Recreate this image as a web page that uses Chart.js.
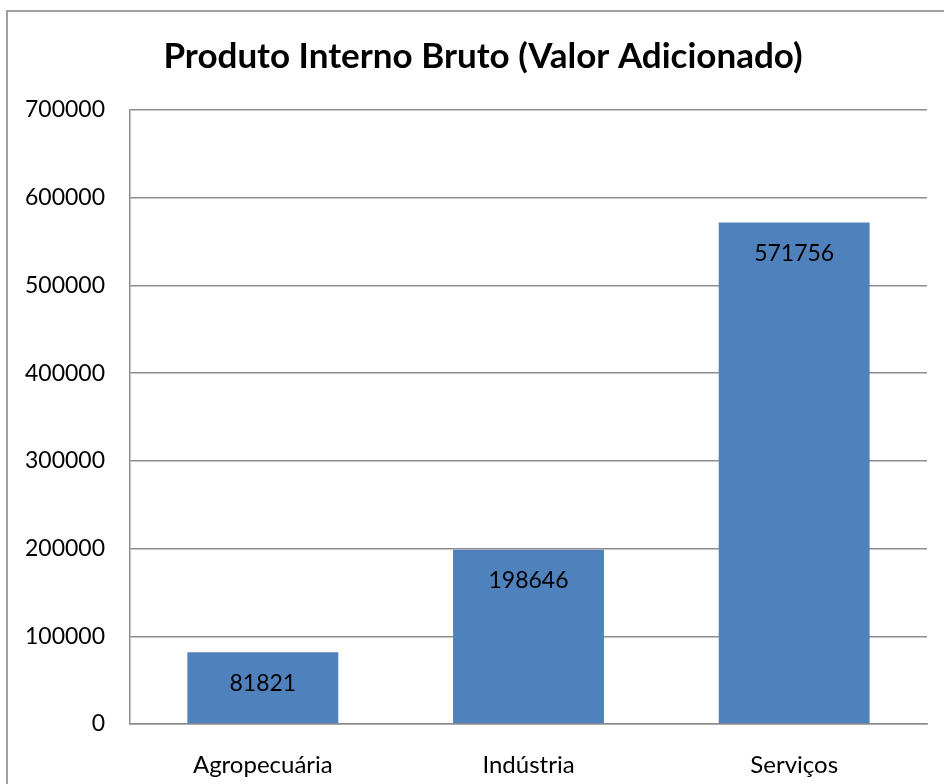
<!DOCTYPE html>
<html lang="pt-BR">
<head>
<meta charset="utf-8">
<title>Produto Interno Bruto (Valor Adicionado)</title>
<script src="https://cdn.jsdelivr.net/npm/chart.js@4.4.1/dist/chart.umd.min.js"></script>
<style>
  html, body { margin: 0; padding: 0; background: #fff; overflow: hidden; }
  .frame {
    position: absolute; left: 6px; top: 10px;
    width: 1000px; height: 1000px;
    border-left: 2px solid #a0a0a0; border-top: 2px solid #a0a0a0;
  }
  .wrap { position: absolute; left: 0; top: 0; width: 944px; height: 784px; }
</style>
</head>
<body>
<div class="frame"></div>
<div class="wrap"><canvas id="chart-pib"></canvas></div>
<script>
/* Produto Interno Bruto por setor (valor adicionado) */
const titulo = 'Produto Interno Bruto (Valor Adicionado)';
const categorias = ['Agropecuária', 'Indústria', 'Serviços'];
const valores = [81821, 198646, 571756];
const yMax = 700000;
const yStep = 100000;

const fontFamily = "Lato, 'Open Sans', sans-serif";
const corBarra = '#4f81bd';
const corGrade = '#8c8c8c';

// título desenhado à mão: no Excel ele fica centrado no quadro, não no canvas
const tituloGrafico = {
  id: 'tituloGrafico',
  afterDraw(chart) {
    const ctx = chart.ctx;
    ctx.save();
    ctx.font = 'bold 35px ' + fontFamily;
    ctx.fillStyle = '#000';
    ctx.textAlign = 'center';
    ctx.textBaseline = 'middle';
    ctx.fillText(titulo, 483, 57);
    ctx.restore();
  }
};

// rótulos de valor dentro das barras, perto do topo
const rotulosValor = {
  id: 'rotulosValor',
  afterDatasetsDraw(chart) {
    const ctx = chart.ctx;
    const meta = chart.getDatasetMeta(0);
    ctx.save();
    ctx.font = '23px ' + fontFamily;
    ctx.fillStyle = '#000';
    ctx.textAlign = 'center';
    ctx.textBaseline = 'middle';
    meta.data.forEach((bar, i) => {
      ctx.fillText(String(valores[i]), bar.x, bar.y + 31);
    });
    ctx.restore();
  }
};

new Chart(document.getElementById('chart-pib'), {
  type: 'bar',
  data: {
    labels: categorias,
    datasets: [{
      data: valores,
      backgroundColor: corBarra,
      borderWidth: 0,
      barPercentage: 0.568,
      categoryPercentage: 1
    }]
  },
  options: {
    responsive: true,
    maintainAspectRatio: false,
    animation: false,
    layout: { padding: { left: 0, right: 17, top: 110, bottom: 0 } },
    plugins: {
      legend: { display: false },
      tooltip: { enabled: false },
      title: { display: false }
    },
    scales: {
      x: {
        grid: { display: false },
        border: { display: true, color: corGrade, width: 1.5 },
        ticks: { color: '#000', padding: 19, font: { family: fontFamily, size: 24 } },
        afterFit: (s) => { s.height = 60; }
      },
      y: {
        min: 0,
        max: yMax,
        grid: { color: corGrade, lineWidth: 1.5, drawTicks: false },
        border: { display: true, color: corGrade, width: 1.5 },
        ticks: {
          stepSize: yStep,
          color: '#000',
          padding: 25,
          font: { family: fontFamily, size: 23 },
          callback: (v) => String(v)
        },
        afterFit: (s) => { s.width = 130; }
      }
    }
  },
  plugins: [rotulosValor, tituloGrafico]
});
</script>
</body>
</html>
